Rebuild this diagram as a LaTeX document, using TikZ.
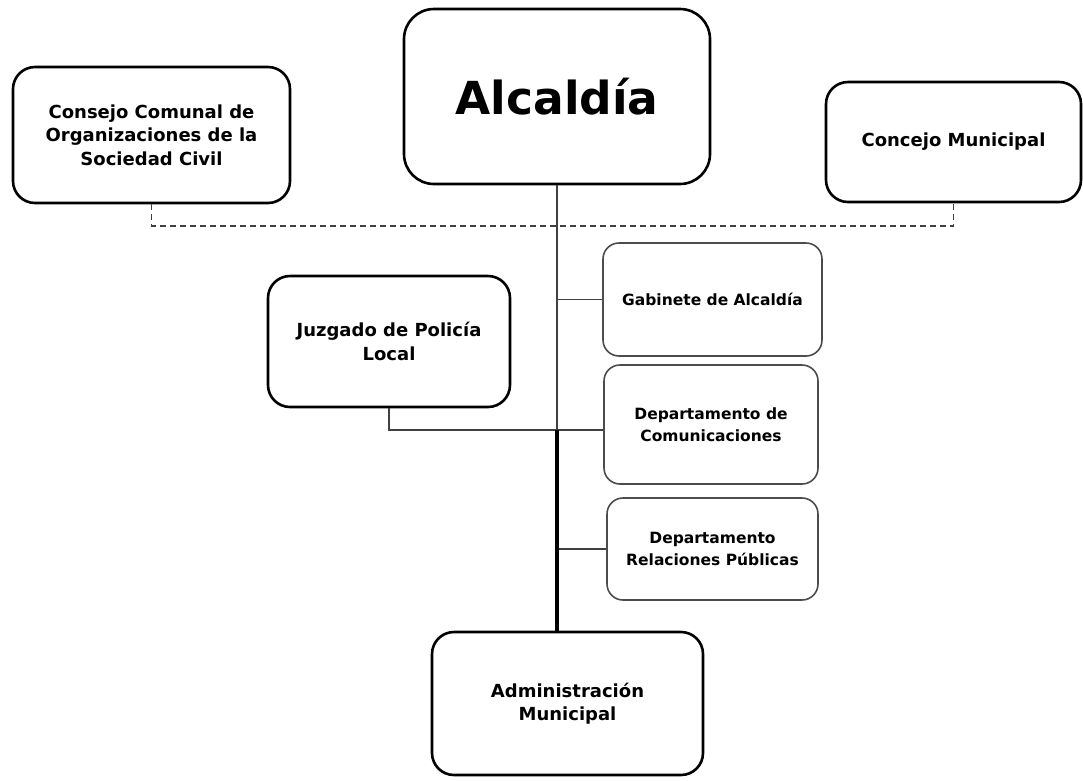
\documentclass[tikz,border=0pt]{standalone}
\usepackage{fontspec}
\setmainfont{DejaVu Sans}
\begin{document}
\begin{tikzpicture}[x=1pt,y=-1pt,
  bigbox/.style={draw=black, line width=2.6pt, rounded corners=22pt, fill=white, align=center,
    font=\fontsize{18}{23.5}\selectfont\bfseries, inner sep=4pt},
  smallbox/.style={draw=black!70, line width=1.6pt, rounded corners=16pt, fill=white, align=center,
    font=\fontsize{15.5}{21.5}\selectfont\bfseries, inner sep=4pt},
  conn/.style={draw=black!75, line width=1.1pt},
  thickconn/.style={draw=black, line width=4pt},
  dashconn/.style={draw=black!75, line width=1.4pt, dash pattern=on 6pt off 4pt}]
\useasboundingbox (0,0) rectangle (1083,780);
\node[bigbox, minimum width=277pt, minimum height=136pt] (cons) at (151.5,135)
  {Consejo Comunal de\\Organizaciones de la\\Sociedad Civil};
\node[bigbox, minimum width=306pt, minimum height=175pt, rounded corners=30pt,
  font=\fontsize{45.5}{52}\selectfont\bfseries] (alc) at (557,96.5) {Alcaldía};
\node[bigbox, minimum width=255pt, minimum height=120pt] (conc) at (953.5,142) {Concejo Municipal};
\node[smallbox, minimum width=219pt, minimum height=113pt] (gab) at (712.5,299.5) {Gabinete de Alcaldía};
\node[smallbox, minimum width=214pt, minimum height=119pt] (com) at (711,424.5) {Departamento de\\Comunicaciones};
\node[smallbox, minimum width=211pt, minimum height=102pt] (rel) at (712.5,549) {Departamento\\Relaciones Públicas};
\node[bigbox, minimum width=242pt, minimum height=131pt] (jz) at (389,341.5) {Juzgado de Policía\\Local};
\node[bigbox, minimum width=271pt, minimum height=143pt] (adm) at (567.5,703.5) {Administración\\Municipal};
\coordinate (spine) at (557,430);
\coordinate (dy) at (0,226);
\draw[dashconn] (cons.south) -- (cons.south |- dy) -| (conc.south);
\draw[conn] (alc.south) -- (spine);
\draw[conn] (gab.west) -- (gab.west -| spine);
\draw[conn] (spine -| com.west) -- (spine);
\draw[conn] (jz.south) -- (jz.south |- spine) -- (spine);
\draw[conn] (rel.west) -- (rel.west -| spine);
\draw[thickconn] (spine) -- (spine |- adm.north);
\end{tikzpicture}
\end{document}
